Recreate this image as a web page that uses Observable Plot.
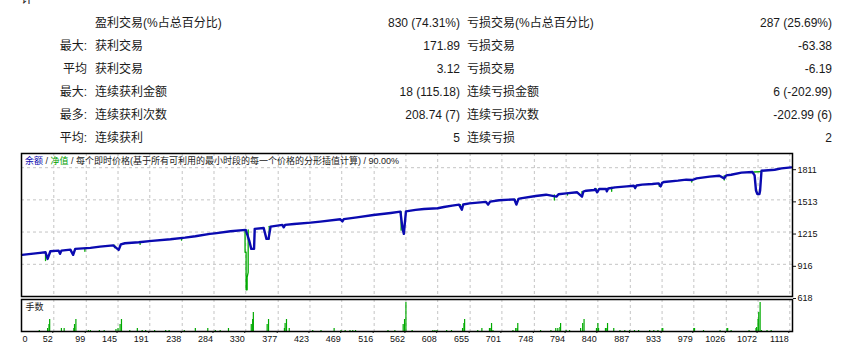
<!DOCTYPE html>
<html><head><meta charset="utf-8">
<script src="https://cdn.jsdelivr.net/npm/d3@7"></script>
<script src="https://cdn.jsdelivr.net/npm/@observablehq/plot@0.6"></script>
<style>
body{margin:0;background:#fff;width:849px;height:348px;position:relative;overflow:hidden;font-family:"Liberation Sans","Noto Sans CJK SC",sans-serif;color:#1a1a1a}
.row{position:absolute;left:0;width:849px;height:16px;font-size:12px;line-height:16px}
.row span{position:absolute;white-space:nowrap;top:0}
#cut{position:absolute;left:21px;top:-7px;font-size:12px;line-height:12px}
#main{position:absolute;left:0;top:150px;z-index:2}
#vol{position:absolute;left:0;top:297px;z-index:1}
#legend{position:absolute;left:25px;top:156px;font-size:9px;z-index:3;line-height:11px;white-space:nowrap;color:#222}
</style>
</head><body>
<div id="cut">计</div>
<div id="table"></div>
<div id="main"></div>
<div id="vol"></div>
<div id="legend"><span style="color:#0a0ab0">余额</span> / <span style="color:#00a000">净值</span> / 每个即时价格(基于所有可利用的最小时段的每一个价格的分形插值计算) / 90.00%</div>
<script>
// ---- table data ----
const rowPrefix = ["", "最大:", "平均", "最大:", "最多:", "平均:"];
const winLabels = ["盈利交易(%占总百分比)", "获利交易", "获利交易", "连续获利金额", "连续获利次数", "连续获利"];
const winValues = ["830 (74.31%)", "171.89", "3.12", "18 (115.18)", "208.74 (7)", "5"];
const lossLabels = ["亏损交易(%占总百分比)", "亏损交易", "亏损交易", "连续亏损金额", "连续亏损次数", "连续亏损"];
const lossValues = ["287 (25.69%)", "-63.38", "-6.19", "6 (-202.99)", "-202.99 (6)", "2"];

// ---- chart axes ----
const xTicks = [0,52,99,145,191,238,284,330,377,423,469,516,562,608,655,701,748,794,840,887,933,979,1026,1072,1118];
const xDomain = [5.2, 1121.9];
const yTicks = [618, 916, 1215, 1513, 1811];
const yDomain = [618, 1942.5];

// ---- balance curve: [trade #, balance] ----
const balance = [
[6,1004],[32,1022],[40,1028],[43,966],[47,1037],[59,1043],[61,1013],[63,1043],[76,1052],[80,1004],[83,1059],
[105,1068],[119,1080],[138,1092],[146,1050],[149,1100],[155,1111],[175,1120],[194,1133],[221,1148],[242,1163],
[257,1176],[278,1198],[285,1203],[308,1222],[330,1235],[335,1136],[338,1059],[342,1059],[343,1244],[356,1253],
[360,1152],[363,1152],[366,1265],[383,1281],[385,1259],[387,1281],[400,1290],[424,1302],[438,1311],[467,1333],
[470,1314],[472,1335],[491,1351],[515,1373],[540,1392],[554,1404],[557,1250],[559,1198],[562,1407],[576,1420],
[588,1429],[608,1435],[617,1447],[629,1460],[639,1469],[643,1422],[645,1470],[654,1481],[678,1494],[681,1469],
[684,1497],[697,1509],[719,1518],[722,1469],[725,1522],[728,1527],[750,1549],[765,1561],[780,1543],[783,1565],
[794,1573],[810,1583],[817,1543],[819,1590],[823,1598],[835,1605],[836,1614],[839,1583],[842,1614],[852,1614],
[853,1592],[855,1618],[865,1629],[882,1638],[892,1644],[894,1623],[896,1646],[904,1654],[919,1660],[928,1666],
[931,1638],[933,1670],[936,1679],[956,1691],[968,1700],[977,1697],[983,1712],[1002,1728],[1016,1737],[1023,1712],
[1026,1740],[1033,1746],[1048,1765],[1064,1771],[1067,1740],[1069,1600],[1071,1568],[1074,1568],[1075,1600],
[1077,1783],[1096,1792],[1106,1805],[1120,1814]
];

// ---- equity excursions (where equity departs from balance): paths of [trade #, equity] ----
const equityPaths = [
[[40,1028],[40,951]],
[[97,1059],[97,1037]],
[[140,1094],[140,1070]],
[[177,1120],[177,1100]],
[[237,1160],[237,1140]],
[[329,1235],[329,1028],[330.5,1028],[330.5,680],[332,680],[332,796],[333.5,842],[333.5,1235]],
[[364,1150],[364,1268]],
[[555,1404],[555,1232]],
[[641,1469],[641,1455]],
[[720,1518],[720,1502]],
[[777,1558],[777,1512]],
[[796,1573],[796,1557]],
[[817,1590],[817,1573]],
[[838,1614],[838,1600]],
[[860,1629],[860,1592]],
[[894,1644],[894,1617]],
[[929,1666],[929,1638]],
[[976,1700],[976,1678]],
[[1023,1737],[1023,1697]],
[[1066,1771],[1077,1775]]
];

// ---- lots per trade: [trade #, lots] ----
const volumes = [
[31,0.01],[43,0.03],[45,0.07],[46,0.12],[63,0.03],[67,0.03],[81,0.03],[82,0.07],[84,0.12],[102,0.01],[105,0.01],
[118,0.01],[125,0.01],[142,0.02],[145,0.03],[148,0.07],[150,0.12],[162,0.01],[173,0.03],[180,0.01],[185,0.01],
[198,0.01],[214,0.01],[219,0.01],[241,0.01],[257,0.03],[275,0.03],[286,0.01],[293,0.01],[305,0.03],[338,0.07],
[340,0.12],[341,0.19],[361,0.07],[363,0.12],[386,0.03],[387,0.08],[389,0.12],[393,0.03],[427,0.01],[439,0.01],
[458,0.03],[468,0.01],[474,0.01],[481,0.01],[485,0.01],[489,0.01],[536,0.01],[546,0.01],[558,0.07],[560,0.12],
[562,0.29],[571,0.01],[601,0.01],[604,0.01],[607,0.01],[621,0.01],[628,0.01],[644,0.03],[646,0.08],[647,0.12],
[666,0.01],[672,0.03],[683,0.03],[684,0.03],[686,0.08],[688,0.01],[717,0.01],[721,0.03],[723,0.03],[724,0.08],
[757,0.01],[772,0.01],[779,0.03],[782,0.03],[785,0.04],[786,0.08],[794,0.01],[799,0.01],[815,0.03],[818,0.08],
[820,0.12],[838,0.03],[840,0.08],[841,0.03],[851,0.03],[853,0.03],[854,0.08],[863,0.03],[872,0.01],[879,0.01],
[886,0.01],[893,0.01],[899,0.01],[915,0.01],[921,0.01],[927,0.01],[933,0.03],[934,0.03],[979,0.03],[980,0.03],
[993,0.01],[1017,0.01],[1027,0.03],[1028,0.03],[1033,0.01],[1059,0.01],[1069,0.03],[1070,0.04],[1072,0.12],
[1073,0.19],[1075,0.29],[1077,0.01],[1085,0.01],[1091,0.01]
];

// ---- build table ----
const table = document.getElementById("table");
rowPrefix.forEach((p, i) => {
  const r = document.createElement("div");
  r.className = "row";
  r.style.top = (14.7 + 23 * i) + "px";
  const cells = [
    [p, "right:762px"], [winLabels[i], "left:95px"], [winValues[i], "right:389px"],
    [lossLabels[i], "left:467px"], [lossValues[i], "right:17px"]
  ];
  cells.forEach(([t, pos]) => {
    const s = document.createElement("span");
    s.textContent = t;
    s.setAttribute("style", pos);
    r.appendChild(s);
  });
  table.appendChild(r);
});

const BLUE = "#0a0ab0", GREEN = "#00aa00", GRID = "#c4c4c4";
const font = "'Liberation Sans','Noto Sans CJK SC',sans-serif";
const equityPts = equityPaths.flatMap((p, i) => p.map(([t, v]) => ({seg: i, t, v})));
const bal = balance.map(([t, v]) => ({t, v}));
const vol = volumes.map(([t, lots]) => ({t, lots}));

const main = Plot.plot({
  width: 849, height: 147,
  marginLeft: 21, marginRight: 57, marginTop: 3, marginBottom: 1,
  x: {domain: xDomain, axis: null, label: null},
  y: {domain: yDomain, label: null, axis: null},
  style: {fontFamily: font, fontSize: "9px", background: "transparent", overflow: "visible", color: "#111"},
  marks: [
    Plot.ruleY(yTicks.slice(1), {stroke: GRID, strokeDasharray: "3,3"}),
    Plot.ruleX(xTicks.slice(1), {stroke: GRID, strokeDasharray: "3,3"}),
    Plot.line(equityPts, {x: "t", y: "v", z: "seg", stroke: GREEN, strokeWidth: 1.3}),
    Plot.line(bal, {x: "t", y: "v", stroke: BLUE, strokeWidth: 2.4}),
    Plot.frame({stroke: "#000", strokeWidth: 1.5}),
    Plot.axisY({ticks: yTicks, anchor: "right", tickSize: 3, tickPadding: 2, dy: 2, fontSize: 9, tickFormat: d => String(d), label: null})
  ]
});
main.style.overflow = "visible";
document.getElementById("main").appendChild(main);

const volPlot = Plot.plot({
  width: 849, height: 51,
  marginLeft: 21, marginRight: 57, marginTop: 2, marginBottom: 17,
  x: {domain: xDomain, axis: null, label: null},
  y: {domain: [0, 0.32], axis: null, label: null},
  style: {fontFamily: font, fontSize: "9px", background: "transparent", overflow: "visible", color: "#111"},
  marks: [
    Plot.ruleX(xTicks.slice(1), {stroke: GRID, strokeDasharray: "3,3"}),
    Plot.ruleX(vol, {x: "t", y1: d => 0, y2: "lots", stroke: GREEN, strokeWidth: 1.2}),
    Plot.frame({stroke: "#000", strokeWidth: 1.5}),
    Plot.text(["手数"], {frameAnchor: "top-left", dx: 4, dy: 4, text: d => d, fontSize: 9, fill: "#222"}),
    Plot.axisX({ticks: xTicks.slice(1), tickSize: 2, tickPadding: 2, textAnchor: "end", dx: -1, fontSize: 9, tickFormat: d => String(d), label: null}),
    Plot.text(xTicks.slice(0, 1), {x: () => xDomain[0], frameAnchor: "bottom", lineAnchor: "top", dy: 4, dx: 1, textAnchor: "start", text: d => String(d), fontSize: 9})
  ]
});
volPlot.style.overflow = "visible";
document.getElementById("vol").appendChild(volPlot);
</script>
</body></html>
